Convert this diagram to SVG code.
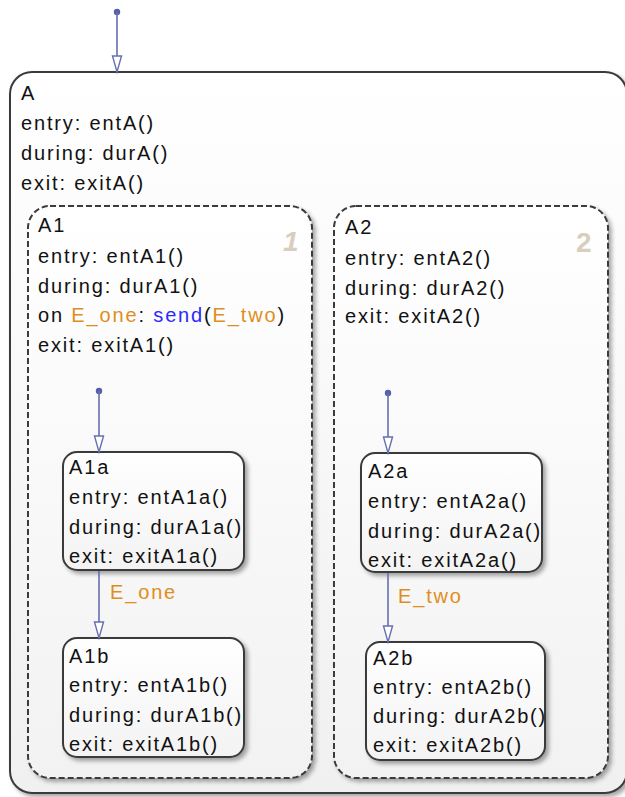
<svg xmlns="http://www.w3.org/2000/svg" width="625" height="797" viewBox="0 0 625 797">
<defs>
<style>
text{font-family:"Liberation Sans",Arial,sans-serif;font-size:20px;letter-spacing:1.85px;fill:#111111}
.ev{fill:#e08e1b}
.fn{fill:#2a2aff}
.num{font-size:28px;font-weight:bold;fill:#d8cebd;letter-spacing:0}
.st{stroke:#3a3a3a;stroke-width:2}
.dash{stroke:#3a3a3a;stroke-width:2;stroke-dasharray:6 3;fill:url(#gA1)}
.tr{stroke:#6670b0;stroke-width:1.6;fill:none}
</style>
<linearGradient id="gA" x1="0" y1="0" x2="0" y2="1"><stop offset="0" stop-color="#ffffff"/><stop offset="1" stop-color="#f0f0f0"/></linearGradient>
<linearGradient id="gA1" x1="0" y1="0" x2="0" y2="1"><stop offset="0" stop-color="#ffffff"/><stop offset="1" stop-color="#f2f2f2"/></linearGradient>
<linearGradient id="gS" x1="0" y1="0" x2="0" y2="1"><stop offset="0" stop-color="#ffffff"/><stop offset="1" stop-color="#f3f3f3"/></linearGradient>
<filter id="sh" x="-10%" y="-10%" width="125%" height="125%"><feDropShadow dx="3" dy="3" stdDeviation="2" flood-color="#000" flood-opacity="0.35"/></filter>
<marker id="ah" markerUnits="userSpaceOnUse" markerWidth="20" markerHeight="12" viewBox="0 -6 20 12" refX="17" refY="0" orient="auto"><path d="M1,-4.5 L17,0 L1,4.5 Z" fill="#ffffff" stroke="#6670b0" stroke-width="1.4"/></marker>
<circle id="dot" r="3.2" fill="#5560a8"/>
</defs>
<rect width="625" height="797" fill="#ffffff"/>

<g id="A">
<rect x="10" y="72" width="617" height="721" rx="22" fill="url(#gA)" class="st" filter="url(#sh)"/>
<text x="21" y="100">A</text>
<text x="21" y="130">entry: entA()</text>
<text x="21" y="160">during: durA()</text>
<text x="21" y="190">exit: exitA()</text>
</g>

<g id="A1">
<rect x="28" y="206" width="284" height="572" rx="22" class="dash" filter="url(#sh)"/>
<text class="num" x="283" y="251" font-style="italic">1</text>
<text x="38" y="232">A1</text>
<text x="38" y="263">entry: entA1()</text>
<text x="38" y="293">during: durA1()</text>
<text x="38" y="322">on <tspan class="ev">E_one</tspan>: <tspan class="fn">send</tspan>(<tspan class="ev">E_two</tspan>)</text>
<text x="38" y="352">exit: exitA1()</text>
</g>

<g id="A2">
<rect x="334" y="206" width="274" height="572" rx="22" class="dash" filter="url(#sh)"/>
<text class="num" x="576" y="252">2</text>
<text x="345" y="234">A2</text>
<text x="345" y="265">entry: entA2()</text>
<text x="345" y="295">during: durA2()</text>
<text x="345" y="323">exit: exitA2()</text>
</g>

<g id="A1a">
<rect x="63" y="452" width="181" height="118" rx="14" fill="url(#gS)" class="st" filter="url(#sh)"/>
<text x="69" y="474">A1a</text>
<text x="69" y="504">entry: entA1a()</text>
<text x="69" y="534">during: durA1a()</text>
<text x="69" y="563">exit: exitA1a()</text>
</g>

<g id="A1b">
<rect x="63" y="638" width="181" height="119" rx="14" fill="url(#gS)" class="st" filter="url(#sh)"/>
<text x="69" y="663">A1b</text>
<text x="69" y="692">entry: entA1b()</text>
<text x="69" y="722">during: durA1b()</text>
<text x="69" y="751">exit: exitA1b()</text>
</g>

<g id="A2a">
<rect x="361" y="453" width="181" height="119" rx="14" fill="url(#gS)" class="st" filter="url(#sh)"/>
<text x="368" y="478">A2a</text>
<text x="368" y="508">entry: entA2a()</text>
<text x="368" y="538">during: durA2a()</text>
<text x="368" y="567">exit: exitA2a()</text>
</g>

<g id="A2b">
<rect x="366" y="642" width="179" height="118" rx="14" fill="url(#gS)" class="st" filter="url(#sh)"/>
<text x="373" y="665">A2b</text>
<text x="373" y="694">entry: entA2b()</text>
<text x="373" y="723">during: durA2b()</text>
<text x="373" y="752">exit: exitA2b()</text>
</g>

<g id="connectors">
<use href="#dot" x="117" y="12"/>
<line class="tr" x1="117" y1="12" x2="117" y2="72" marker-end="url(#ah)"/>
<use href="#dot" x="99" y="391"/>
<line class="tr" x1="99" y1="391" x2="99" y2="452" marker-end="url(#ah)"/>
<line class="tr" x1="99" y1="571" x2="99" y2="638" marker-end="url(#ah)"/>
<text class="ev" x="110" y="599">E_one</text>
<use href="#dot" x="388" y="393"/>
<line class="tr" x1="388" y1="393" x2="388" y2="453" marker-end="url(#ah)"/>
<line class="tr" x1="388" y1="573" x2="388" y2="642" marker-end="url(#ah)"/>
<text class="ev" x="398" y="603">E_two</text>
</g>
</svg>
